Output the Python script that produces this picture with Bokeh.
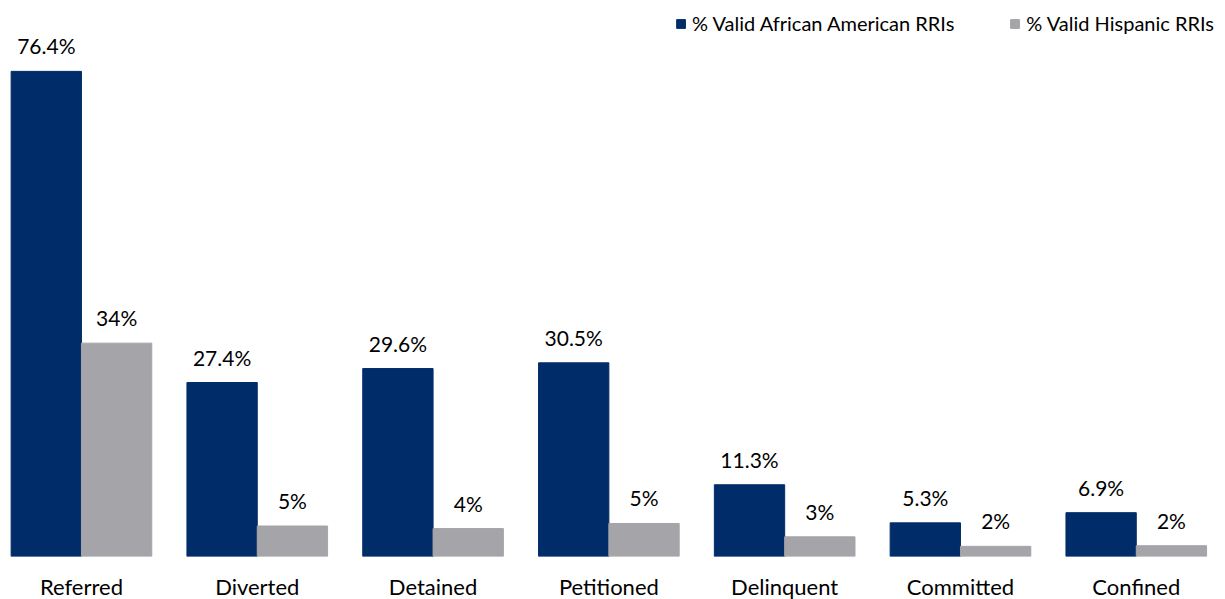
from bokeh.plotting import figure
from bokeh.models import ColumnDataSource, Range1d, FixedTicker, Legend, LegendItem
from bokeh.core.properties import value
from bokeh.embed import file_html
from bokeh.resources import INLINE

categories = ["Referred", "Diverted", "Detained", "Petitioned", "Delinquent", "Committed", "Confined"]
african_american = [76.4, 27.4, 29.6, 30.5, 11.3, 5.3, 6.9]
hispanic = [33.6, 4.8, 4.4, 5.2, 3.1, 1.6, 1.7]
series_names = ["% Valid African American RRIs", "% Valid Hispanic RRIs"]

BLUE = "#002d69"
GRAY = "#a5a4a9"
FONT = "Lato"
TXT = "#000000"

idx = list(range(len(categories)))
src_aa = ColumnDataSource(dict(
    x=[i - 0.2 for i in idx], top=african_american,
    label=[f"{v:.1f}%" for v in african_american]))
src_h = ColumnDataSource(dict(
    x=[i + 0.2 for i in idx], top=hispanic,
    label=[f"{round(v)}%" for v in hispanic]))

p = figure(frame_width=1209, frame_height=548,
           min_border_left=8, min_border_right=0, min_border_top=8,
           x_range=Range1d(-0.415, 6.462), y_range=Range1d(0, 86.3),
           output_backend="svg", toolbar_location=None)

r1 = p.vbar(x="x", top="top", width=0.4, source=src_aa, fill_color=BLUE, line_color=BLUE)
r2 = p.vbar(x="x", top="top", width=0.4, source=src_h, fill_color=GRAY, line_color=GRAY)

for src in (src_aa, src_h):
    p.text(x="x", y="top", text="label", source=src, text_align="center",
           text_baseline="bottom", y_offset=-13, text_font=value(FONT),
           text_font_size="21px", text_color=TXT)

p.xaxis.ticker = FixedTicker(ticks=idx)
p.xaxis.major_label_overrides = {i: c for i, c in enumerate(categories)}
p.xaxis.major_label_text_font = FONT
p.xaxis.major_label_text_font_size = "22px"
p.xaxis.major_label_text_color = TXT
p.xaxis.major_label_standoff = 16
p.xaxis.axis_line_color = None
p.xaxis.major_tick_line_color = None
p.xaxis.minor_tick_line_color = None
p.xaxis.major_tick_out = 0
p.yaxis.visible = False
p.xgrid.grid_line_color = None
p.ygrid.grid_line_color = None
p.outline_line_color = None

legend = Legend(items=[LegendItem(label=series_names[0], renderers=[r1]),
                       LegendItem(label=series_names[1], renderers=[r2])],
                location="top_right", orientation="horizontal",
                label_text_font=FONT, label_text_font_size="20px",
                label_text_color=TXT, glyph_width=11, glyph_height=11,
                label_standoff=6, spacing=55, padding=0, margin=3,
                border_line_color=None, background_fill_alpha=0)
p.add_layout(legend)

open("out.html", "w").write(file_html(p, INLINE))
